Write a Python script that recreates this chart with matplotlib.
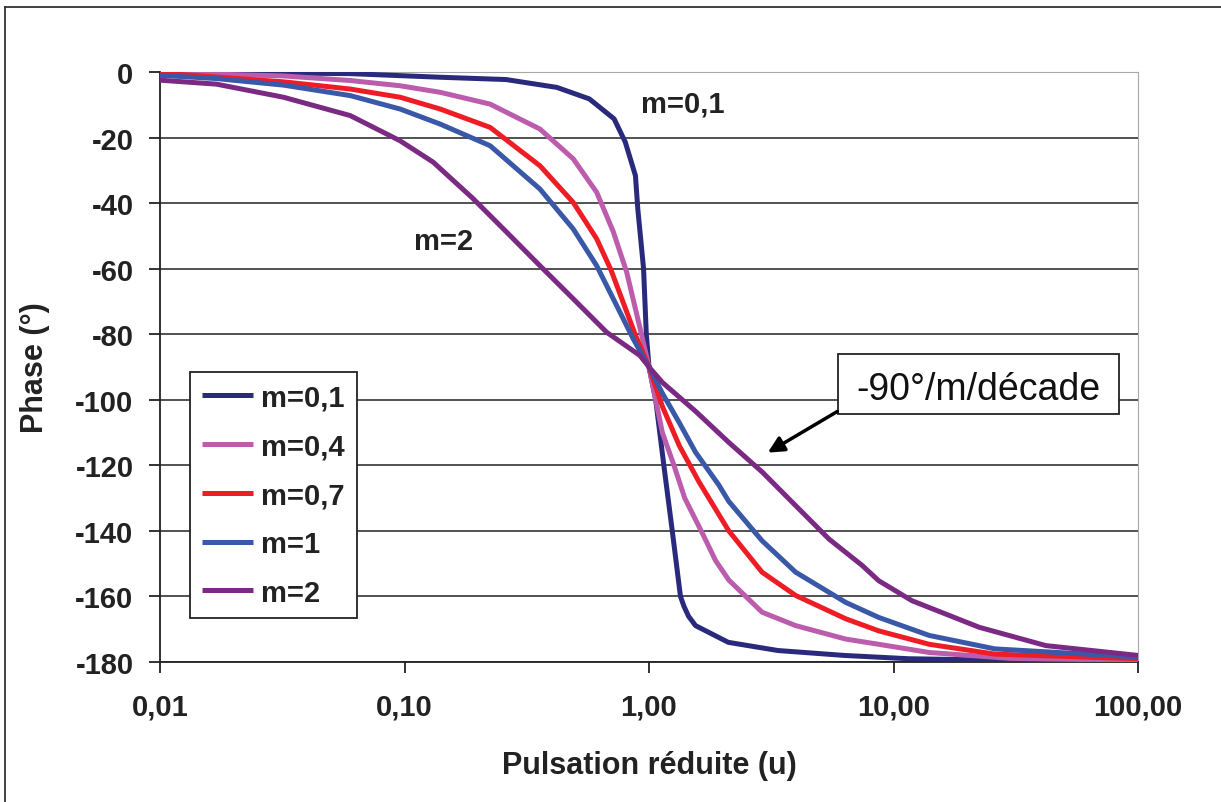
import numpy as np
import matplotlib
matplotlib.use('Agg')
import matplotlib.pyplot as plt
from matplotlib.lines import Line2D
from matplotlib.patches import Rectangle

plt.rcParams['font.family'] = ['Liberation Sans', 'DejaVu Sans']
plt.rcParams['axes.unicode_minus'] = False

# valeurs (pulsation reduite u, phase en degres)
u_m01 = [0.01, 0.06, 0.14, 0.26, 0.42, 0.57, 0.72, 0.80, 0.88, 0.90, 0.925, 0.95, 0.975, 1.0,
         1.065, 1.15, 1.245, 1.345, 1.39, 1.45, 1.55, 2.11, 3.37, 6.3, 11.5, 30, 100]
ph_m01 = [0, -0.5, -1.6, -2.3, -4.7, -8.2, -14.3, -21.4, -31.6, -41.8, -51, -60, -80, -90,
          -100, -120, -140, -160, -163, -166, -168.9, -174, -176.5, -178, -179, -179.5, -179.7]

u_m04 = [0.01, 0.032, 0.06, 0.096, 0.14, 0.224, 0.358, 0.49, 0.611, 0.715, 0.81, 0.918, 1.0,
         1.065, 1.134, 1.265, 1.4, 1.66, 1.87, 2.12, 2.9, 3.98, 6.37, 8.7, 14, 30, 100]
ph_m04 = [-0.2, -1.2, -2.6, -4.2, -6.2, -9.8, -17.4, -26.5, -36.7, -48.8, -61, -78, -90,
          -100, -110, -120, -130, -141, -149, -155, -164.8, -168.9, -173, -174.6, -177.1, -178.9, -179.5]

u_m07 = [0.01, 0.032, 0.06, 0.096, 0.14, 0.224, 0.358, 0.49, 0.611, 0.70, 0.877, 1.0,
         1.134, 1.33, 1.6, 1.93, 2.12, 2.9, 3.98, 6.37, 8.7, 14, 26, 100]
ph_m07 = [-0.3, -3, -5.2, -7.7, -11.3, -16.9, -28.6, -39.8, -50.9, -60.5, -80, -90,
          -102, -114, -125, -135, -140, -152.6, -159.7, -166.8, -170.5, -174.6, -177.6, -179]

u_m1 = [0.01, 0.017, 0.032, 0.06, 0.096, 0.14, 0.224, 0.358, 0.49, 0.611, 0.738, 0.863, 1.0,
        1.134, 1.33, 1.55, 1.93, 2.12, 2.9, 3.98, 6.37, 8.7, 14, 26, 100]
ph_m1 = [-1, -2, -4, -7.2, -11.3, -15.9, -22.5, -35.7, -47.9, -59.1, -71.3, -81.5, -90,
         -98, -107, -116, -126, -131, -143, -152.6, -161.8, -166.4, -171.9, -176, -178.5]

u_m2 = [0.01, 0.017, 0.032, 0.06, 0.096, 0.131, 0.19, 0.262, 0.358, 0.49, 0.671, 0.918, 1.0,
        1.134, 1.55, 2.12, 2.91, 3.98, 5.45, 7.46, 8.7, 11.9, 22.4, 42, 100]
ph_m2 = [-2.5, -3.7, -7.7, -13.3, -21, -27.5, -38.5, -48.9, -59.1, -69.2, -79.4, -86.5, -90,
         -94.7, -103.5, -113, -122.1, -132.3, -142.5, -150.6, -155.2, -161.3, -169.4, -175, -178]

labels = ['m=0,1', 'm=0,4', 'm=0,7', 'm=1', 'm=2']
couleurs = ['#2A2A7C', '#BC5CAC', '#EE1D25', '#3A58A8', '#7B2A84']

yticks = [0, -20, -40, -60, -80, -100, -120, -140, -160, -180]
xticks = [0.01, 0.1, 1, 10, 100]
xtick_labels = ['0,01', '0,10', '1,00', '10,00', '100,00']

fig = plt.figure(figsize=(12.21, 8.03), dpi=100)
ax = fig.add_axes([160/1221, 1-663/803, (1138-160)/1221, (663-73)/803])

series = [(u_m01, ph_m01), (u_m04, ph_m04), (u_m07, ph_m07), (u_m1, ph_m1), (u_m2, ph_m2)]
for (u, ph), lab, c in zip(series, labels, couleurs):
    ax.plot(u, ph, color=c, lw=3.6, label=lab, solid_capstyle='butt',
            solid_joinstyle='round', zorder=3)

ax.set_xscale('log')
ax.set_xlim(0.01, 100)
ax.set_ylim(-180, 0)
ax.set_xticks(xticks)
ax.set_xticklabels(xtick_labels)
ax.xaxis.set_minor_locator(matplotlib.ticker.NullLocator())
ax.set_yticks(yticks)
ax.yaxis.grid(True, color='#222222', lw=1.1, zorder=1)
ax.set_axisbelow(True)

for lbl in ax.get_xticklabels() + ax.get_yticklabels():
    lbl.set_fontweight('bold')
    lbl.set_fontsize(21)
    lbl.set_color('#222222')
ax.tick_params(axis='x', direction='out', length=8, width=1.3, pad=14, colors='#222222')
ax.tick_params(axis='y', direction='out', length=8, width=1.3, pad=11, colors='#222222')

ax.spines['left'].set_color('#222222')
ax.spines['left'].set_linewidth(1.3)
ax.spines['bottom'].set_color('#222222')
ax.spines['bottom'].set_linewidth(1.3)
ax.spines['top'].set_color('#A8A8A8')
ax.spines['right'].set_color('#A8A8A8')

ax.set_xlabel('Pulsation réduite (u)', fontsize=22, fontweight='bold', color='#222222')
ax.set_ylabel('Phase (°)', fontsize=22, fontweight='bold', color='#222222')
ax.xaxis.set_label_coords(0.5, -0.15)
ax.yaxis.set_label_coords(-0.112, 0.5)

leg = ax.legend(loc='upper left', bbox_to_anchor=(0.0307, 0.4915), borderaxespad=0,
                fancybox=False, framealpha=1, edgecolor='#222222',
                prop={'size': 21, 'weight': 'bold'}, handlelength=1.75,
                handletextpad=0.3, labelspacing=0.71, borderpad=0.4)
leg.get_frame().set_linewidth(1.3)
for t in leg.get_texts():
    t.set_color('#222222')

ax.text(0.535, 0.946, 'm=0,1', transform=ax.transAxes, ha='center', va='center',
        fontsize=21, fontweight='bold', color='#222222')
ax.text(0.290, 0.7136, 'm=2', transform=ax.transAxes, ha='center', va='center',
        fontsize=21, fontweight='bold', color='#222222')

# encadre pente
ax.add_patch(Rectangle((0.693, 0.420), 0.288, 0.1017, transform=ax.transAxes,
                       facecolor='white', edgecolor='#222222', lw=1.3, zorder=5))
ax.text(0.837, 0.446, '-90°/m/décade', transform=ax.transAxes, ha='center', va='baseline',
        fontsize=27, color='#111111', zorder=6)
ax.annotate('', xy=(0.619, 0.3525), xytext=(0.695, 0.427), xycoords='axes fraction',
            arrowprops=dict(arrowstyle='-|>', lw=2.5, color='black', mutation_scale=24),
            zorder=6)

# cadre autour de la figure
fig.add_artist(Line2D([5/1221, 1.0], [1-8/803, 1-8/803], transform=fig.transFigure,
                      color='#333333', lw=1.3))
fig.add_artist(Line2D([5/1221, 5/1221], [0.0, 1-8/803], transform=fig.transFigure,
                      color='#333333', lw=1.3))

fig.savefig('out.png', dpi=100)
